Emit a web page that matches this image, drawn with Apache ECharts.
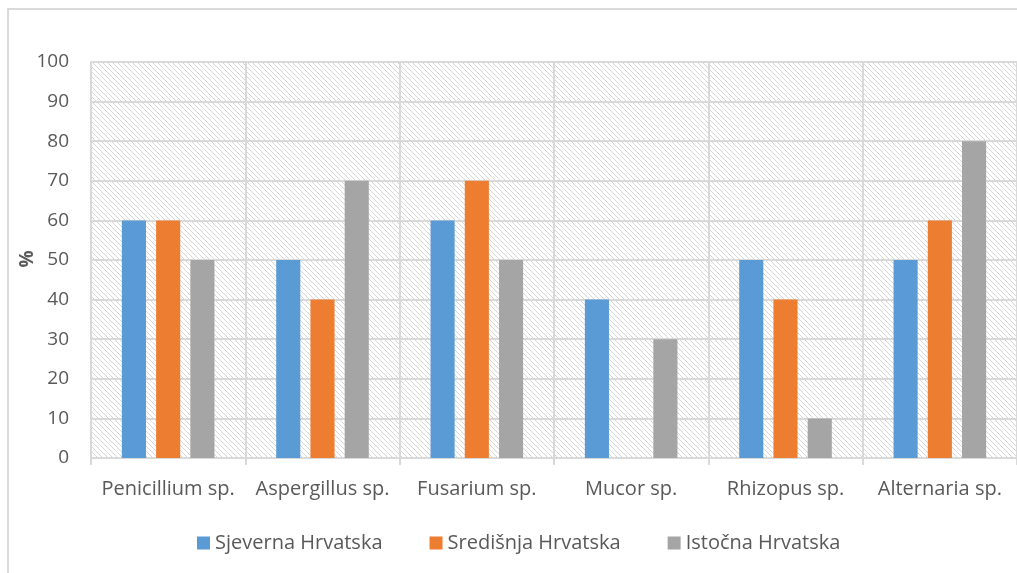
<!DOCTYPE html>
<html lang="hr">
<head>
  <meta charset="UTF-8">
  <title>Gljive po regijama</title>
  <script src="https://cdn.jsdelivr.net/npm/echarts@6/dist/echarts.min.js"></script>
  <style>
    body { margin: 0; background: #fff; }
    #main { width: 1017px; height: 573px; }
  </style>
</head>
<body>
  <div id="main"></div>
<script>
  // podaci
  var categories = ['Penicillium sp.', 'Aspergillus sp.', 'Fusarium sp.', 'Mucor sp.', 'Rhizopus sp.', 'Alternaria sp.'];
  var sjeverna = [60, 50, 60, 40, 50, 50];
  var sredisnja = [60, 40, 70, 0, 40, 60];
  var istocna = [50, 70, 50, 30, 10, 80];
  var seriesNames = ['Sjeverna Hrvatska', 'Središnja Hrvatska', 'Istočna Hrvatska'];
  var yName = '%';

  // diagonal hatch for the plot background
  var cv = document.createElement('canvas');
  cv.width = 5; cv.height = 5;
  var ctx = cv.getContext('2d');
  ctx.fillStyle = '#fff';
  ctx.fillRect(0, 0, 5, 5);
  ctx.fillStyle = '#d6d6d6';
  for (var i = 0; i < 5; i++) {
    ctx.fillRect(i, i, 1, 1);
  }

  var myChart = echarts.init(document.getElementById('main'));
  var font = "'Open Sans', sans-serif";
  var labelColor = '#595959';
  var lineColor = '#d9d9d9';

  var option = {
    animation: false,
    textStyle: { fontFamily: font },
    graphic: [{
      type: 'rect',
      shape: { x: 8, y: 9, width: 1030, height: 580 },
      style: { fill: 'none', stroke: lineColor, lineWidth: 2 },
      silent: true
    }, {
      // y axis title
      type: 'text',
      x: 28, y: 259,
      rotation: Math.PI / 2,
      style: {
        text: yName, fill: labelColor, fontSize: 19, fontWeight: 'bold',
        fontFamily: font, align: 'center', verticalAlign: 'middle'
      },
      silent: true
    }],
    grid: {
      show: true,
      left: 91, top: 62, width: 927, height: 396,
      backgroundColor: { image: cv, repeat: 'repeat' },
      borderColor: lineColor,
      borderWidth: 1.5
    },
    legend: {
      left: 192, top: 528,
      itemWidth: 13, itemHeight: 13,
      itemGap: 47,
      icon: 'rect',
      textStyle: { fontSize: 20, color: labelColor, fontFamily: font },
      data: seriesNames
    },
    xAxis: {
      type: 'category',
      data: categories,
      axisLine: { lineStyle: { color: lineColor, width: 2 } },
      axisTick: { show: true, length: 7, lineStyle: { color: lineColor, width: 2 } },
      splitLine: { show: true, interval: 0, lineStyle: { color: lineColor, width: 2 } },
      axisLabel: { interval: 0, margin: 21, fontSize: 20, color: labelColor }
    },
    yAxis: {
      type: 'value',
      min: 0, max: 100, interval: 10,
      axisLine: { show: false },
      axisTick: { show: false },
      splitLine: { lineStyle: { color: lineColor, width: 2 } },
      axisLabel: { margin: 22, fontSize: 19, color: labelColor }
    },
    series: [
      { name: seriesNames[0], type: 'bar', data: sjeverna, itemStyle: { color: '#5b9bd5' }, barGap: '42%', barCategoryGap: '40%' },
      { name: seriesNames[1], type: 'bar', data: sredisnja, itemStyle: { color: '#ed7d31' } },
      { name: seriesNames[2], type: 'bar', data: istocna, itemStyle: { color: '#a5a5a5' } }
    ]
  };
  myChart.setOption(option);
</script>
</body>
</html>
